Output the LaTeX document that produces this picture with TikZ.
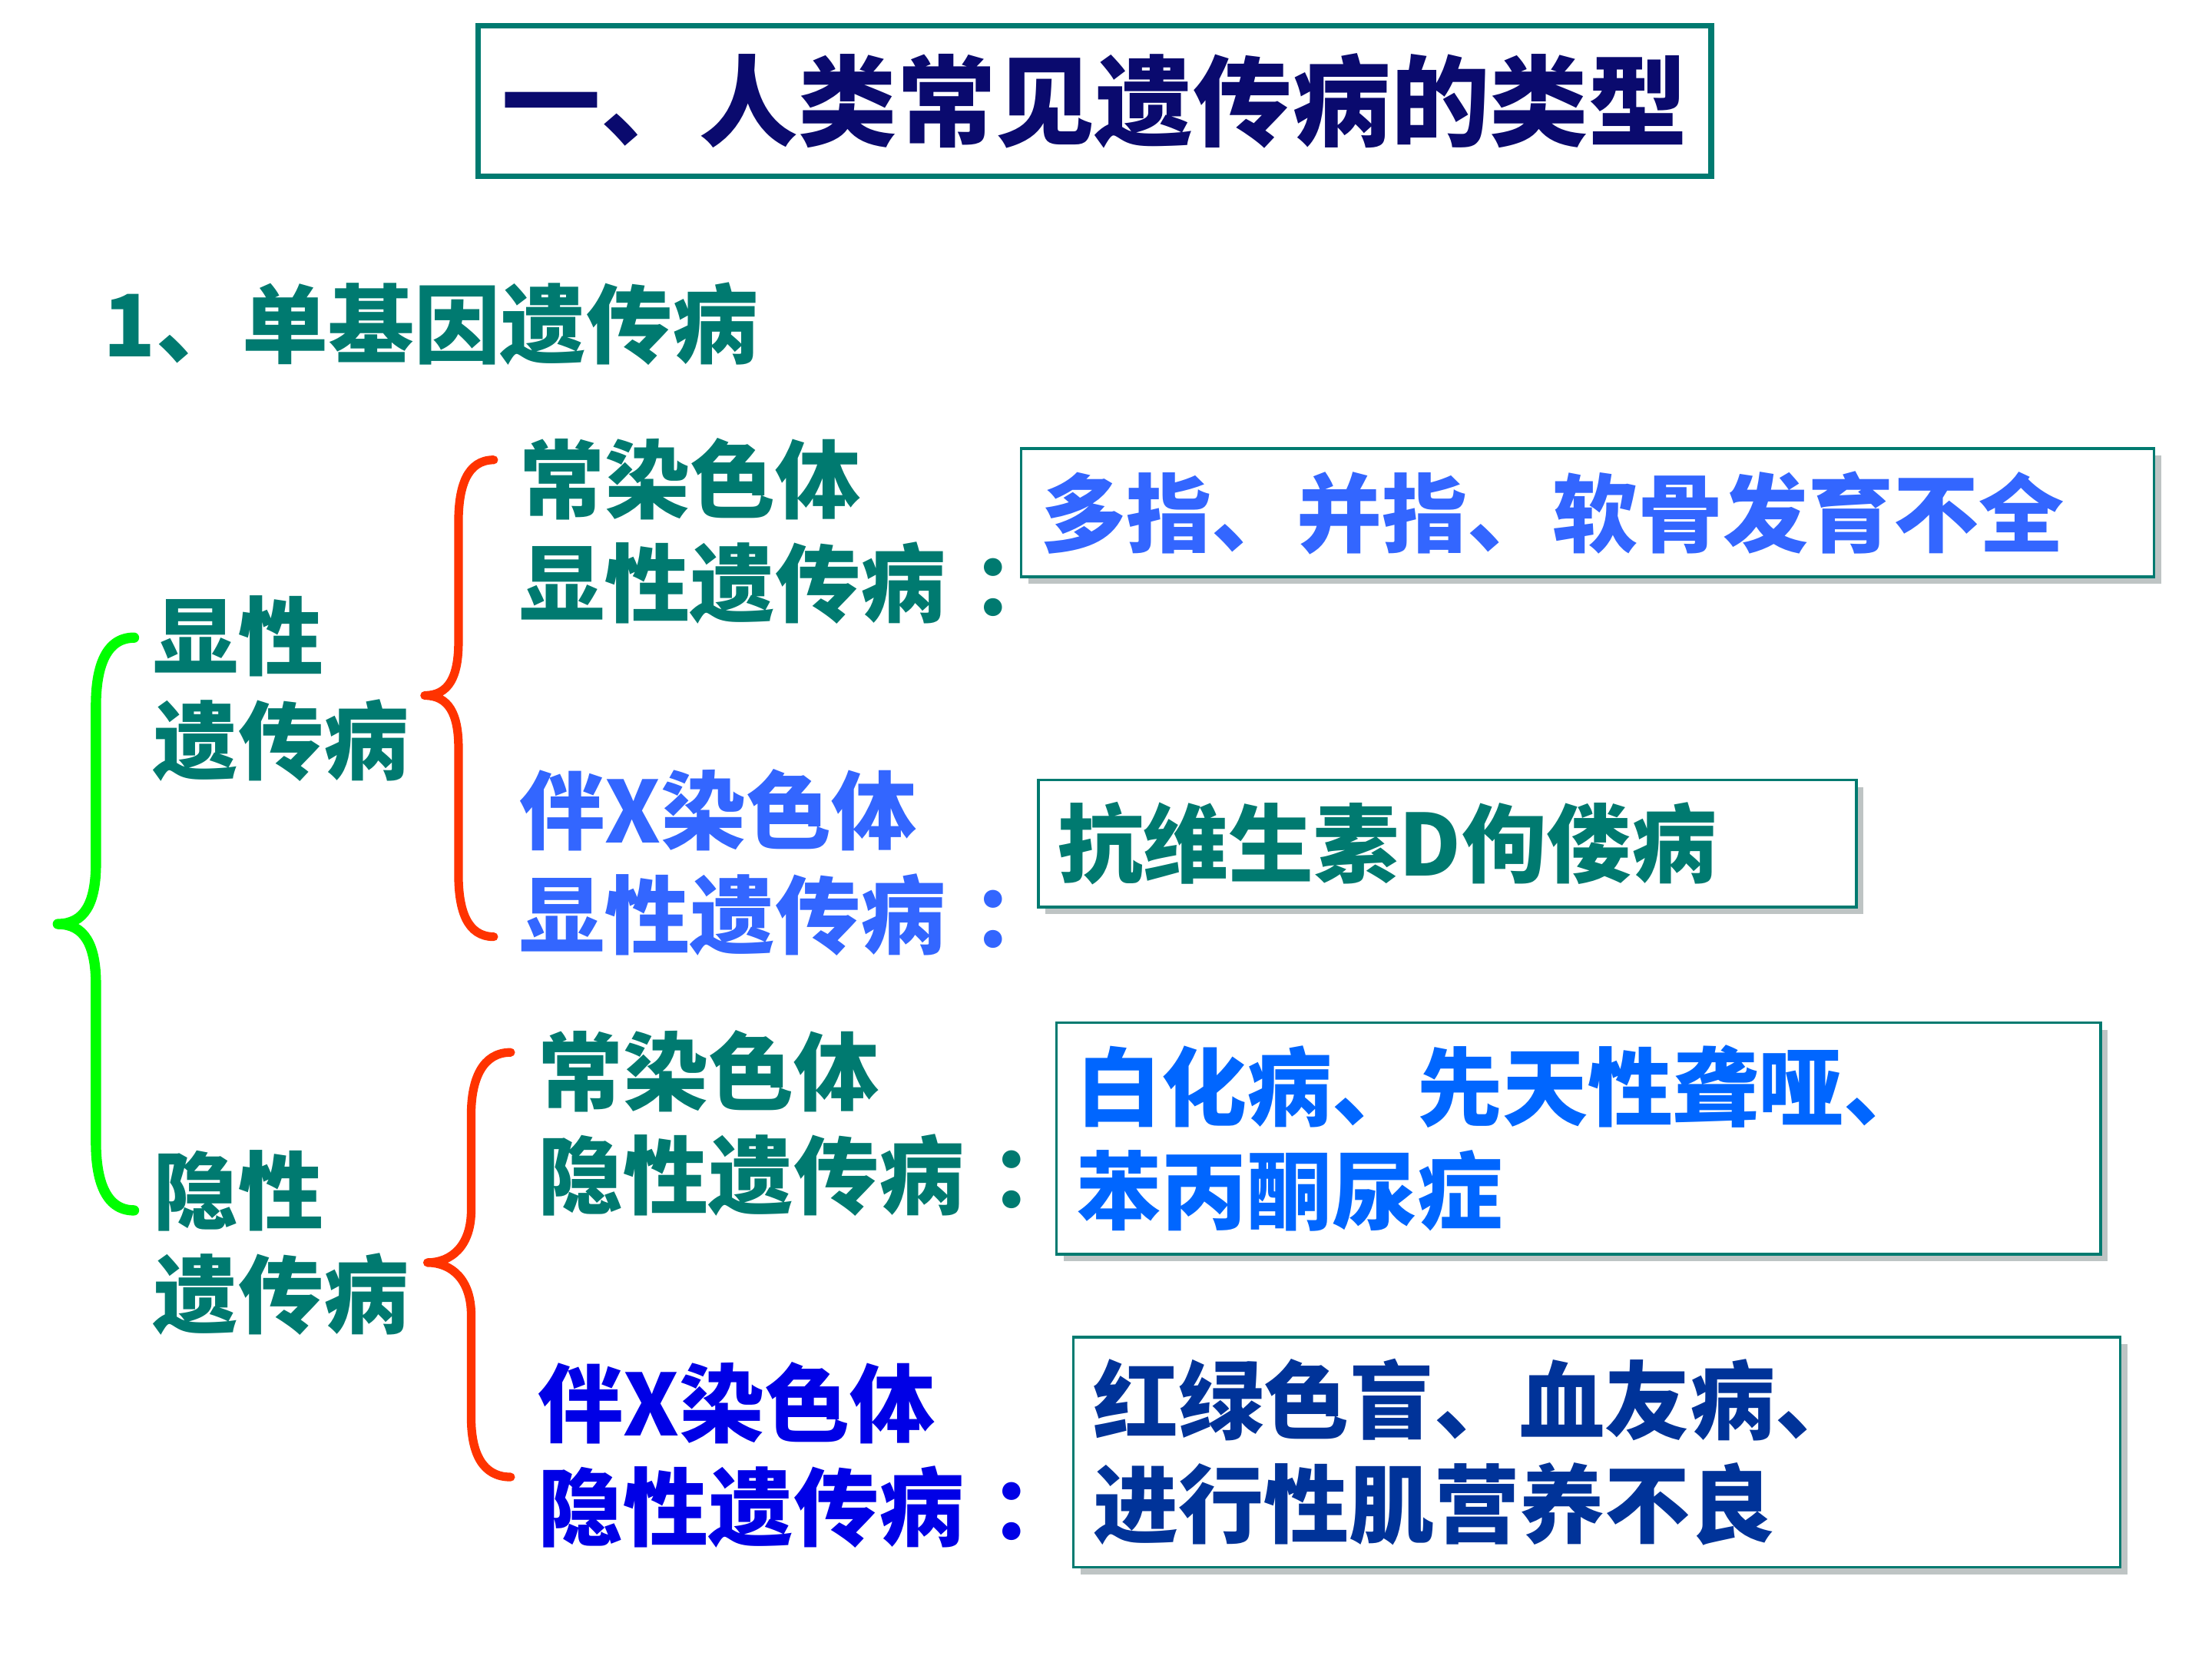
\documentclass[tikz,border=0pt]{standalone}
\usepackage{fontspec}
\usetikzlibrary{shadows}
\newfontfamily\cjk{Noto Sans CJK SC}[BoldFont={Noto Sans CJK SC Black}]
\definecolor{tealc}{RGB}{0,122,112}
\definecolor{navyc}{RGB}{10,10,110}
\definecolor{lightblue}{RGB}{51,102,255}
\definecolor{midblue}{RGB}{0,102,255}
\definecolor{pureblue}{RGB}{0,0,230}
\definecolor{darkblue}{RGB}{0,51,153}
\definecolor{bracegreen}{RGB}{0,255,0}
\definecolor{bracered}{RGB}{255,51,0}
\definecolor{shadowgrey}{RGB}{190,196,196}
\newdimen\px \px=0.018367cm
\newcommand\colonsep{\kern0.3em：}
\tikzset{
  zhfont/.style={font=\cjk\bfseries\fontsize{31.6}{38.5}\selectfont},
  zh/.style={zhfont,inner sep=0pt,anchor=north west,align=left},
  catlab/.style={zh,text=tealc},
  titlebox/.style={draw=tealc,line width=2pt,fill=white,inner sep=0pt,text=navyc,
    font=\cjk\bfseries\fontsize{36.6}{40}\selectfont},
  dbox/.style={zhfont,draw=tealc,line width=1pt,fill=white,anchor=north west,
    inner xsep=14\px,inner ysep=0pt,align=left,
    drop shadow={shadow xshift=5\px,shadow yshift=-5\px,fill=shadowgrey,opacity=1}},
  gbrace/.style={draw=bracegreen,line width=3.8pt,line cap=round,line join=round},
  rbrace/.style={draw=bracered,line width=3.2pt,line cap=round,line join=round}
}
\begin{document}
\begin{tikzpicture}[x=1\px,y=-1\px]
  \useasboundingbox (0,0) rectangle (1568,1176);
  % title
  \node[titlebox,minimum width=874\px,minimum height=107\px] (title) at (776,71.5) {一、人类常见遗传病的类型};
  \node[catlab,font=\cjk\bfseries\fontsize{31.9}{38}\selectfont] (single) at (73,200) {1、单基因遗传病};
  % main groups
  \node[catlab] (dom) at (108,422) {显性\\遗传病};
  \node[catlab] (rec) at (108,815) {隐性\\遗传病};
  % sub groups
  \node[catlab] (adom) at (368,310) {常染色体\\显性遗传病\colonsep};
  \node[zh,text=lightblue] (xdom) at (368,545) {伴X染色体\\显性遗传病\colonsep};
  \node[catlab] (arec) at (381,730) {常染色体\\隐性遗传病\colonsep};
  \node[zh,text=pureblue] (xrec) at (381,965) {伴X染色体\\隐性遗传病\colonsep};
  % disease boxes
  \node[dbox,text=lightblue,text width=775\px,minimum height=91\px] (adombox) at (723,317) {多指、并指、软骨发育不全};
  \node[dbox,text=tealc,text width=552\px,minimum height=90\px] (xdombox) at (735,552) {抗维生素D佝偻病};
  \node[dbox,text=midblue,text width=712\px,minimum height=164\px] (arecbox) at (748,724) {白化病、先天性聋哑、\\苯丙酮尿症};
  \node[dbox,text=darkblue,text width=714\px,minimum height=163\px] (xrecbox) at (760,947) {红绿色盲、血友病、\\进行性肌营养不良};
  % braces
  \draw[gbrace] (95,452) .. controls (74,452) and (68,475) .. (68,500) -- (68,612)
    .. controls (68,640) and (60,655) .. (41,655) .. controls (60,655) and (68,670) .. (68,698)
    -- (68,810) .. controls (68,835) and (74,858) .. (95,858);
  \draw[rbrace] (350,326) .. controls (331,326) and (325,345) .. (325,370) -- (325,455)
    .. controls (325,480) and (318,493) .. (301,493) .. controls (318,493) and (325,506) .. (325,530)
    -- (325,620) .. controls (325,645) and (331,664) .. (350,664);
  \draw[rbrace] (362,746) .. controls (342,746) and (334,765) .. (334,790) -- (334,858)
    .. controls (334,883) and (320,895) .. (303,895) .. controls (320,895) and (334,907) .. (334,932)
    -- (334,1005) .. controls (334,1030) and (342,1047) .. (362,1047);
\end{tikzpicture}
\end{document}
